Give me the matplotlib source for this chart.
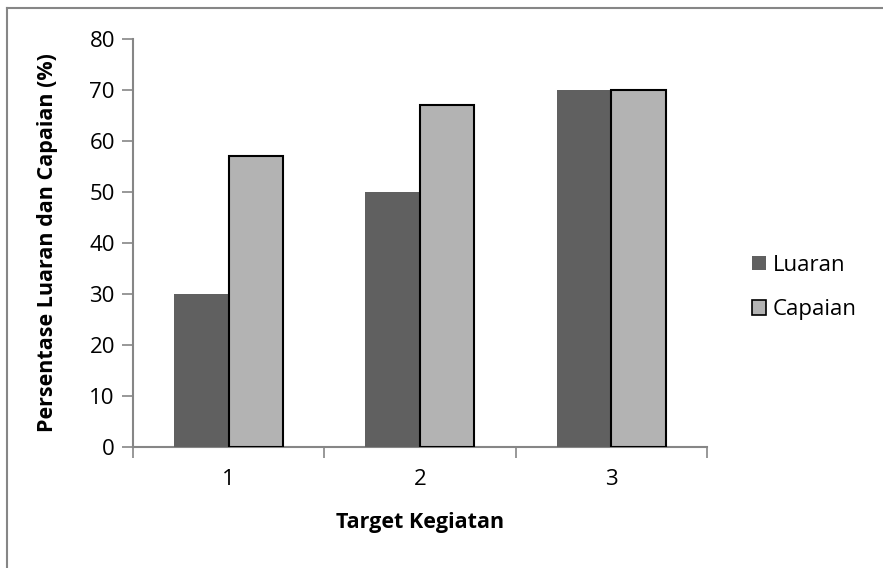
import matplotlib
matplotlib.use('Agg')
import matplotlib.pyplot as plt
from matplotlib.lines import Line2D
from matplotlib.patches import Patch
import numpy as np

categories = ['1', '2', '3']
luaran = [30, 50, 70]
capaian = [57, 67, 70]
y_ticks = [0, 10, 20, 30, 40, 50, 60, 70, 80]

LUARAN_COLOR = '#606060'
CAPAIAN_COLOR = '#b3b3b3'
AXIS_COLOR = '#868686'
BAR_W = 0.285
FS = 16

plt.rcParams['font.family'] = ['Open Sans', 'DejaVu Sans']

fig = plt.figure(figsize=(8.83, 5.68), dpi=100)
ax = fig.add_axes([0.1506, 0.2130, 0.6500, 0.7183])

x = np.arange(1, len(categories) + 1)
ax.bar(x - BAR_W / 2, luaran, BAR_W, color=LUARAN_COLOR, edgecolor='none',
       label='Luaran', zorder=3)
ax.bar(x + BAR_W / 2, capaian, BAR_W, color=CAPAIAN_COLOR, edgecolor='black',
       linewidth=1.5, label='Capaian', zorder=3)

ax.set_xlim(0.5, len(categories) + 0.5)
ax.set_ylim(0, 80)
ax.set_yticks(y_ticks)

# category boundaries get the tick marks, labels sit in the middle
ax.set_xticks(np.arange(0.5, len(categories) + 1, 1.0))
ax.set_xticklabels([])
ax.set_xticks(x, minor=True)
ax.set_xticklabels(categories, minor=True)
ax.tick_params(axis='x', which='major', length=8, width=1.2, color=AXIS_COLOR)
ax.tick_params(axis='x', which='minor', length=0, pad=16, labelsize=FS)
ax.tick_params(axis='y', length=8, width=1.2, color=AXIS_COLOR, pad=5, labelsize=FS)

for side in ('top', 'right'):
    ax.spines[side].set_visible(False)
for side in ('left', 'bottom'):
    ax.spines[side].set_color(AXIS_COLOR)
    ax.spines[side].set_linewidth(1.5)

ax.set_ylabel('Persentase Luaran dan Capaian (%)', fontsize=FS - 0.5, fontweight='bold')
ax.yaxis.set_label_coords(-0.131, 0.5)
ax.set_xlabel('Target Kegiatan', fontsize=FS - 0.5, fontweight='bold')
ax.xaxis.set_label_coords(0.5, -0.160)

handles = [Patch(facecolor=LUARAN_COLOR, edgecolor='none'),
           Patch(facecolor=CAPAIAN_COLOR, edgecolor='black', linewidth=1.2)]
fig.legend(handles, ['Luaran', 'Capaian'], loc='center left',
           bbox_to_anchor=(0.829, 0.494), frameon=False, fontsize=FS,
           handlelength=0.65, handleheight=0.65, handletextpad=0.3,
           labelspacing=1.05)

# chart area border (only left and top edges are inside the picture)
fig.add_artist(Line2D([0.008, 0.008], [0, 0.986], transform=fig.transFigure,
                      color=AXIS_COLOR, linewidth=1.5))
fig.add_artist(Line2D([0.008, 1.0], [0.986, 0.986], transform=fig.transFigure,
                      color=AXIS_COLOR, linewidth=1.5))

fig.savefig('out.png', dpi=100)
